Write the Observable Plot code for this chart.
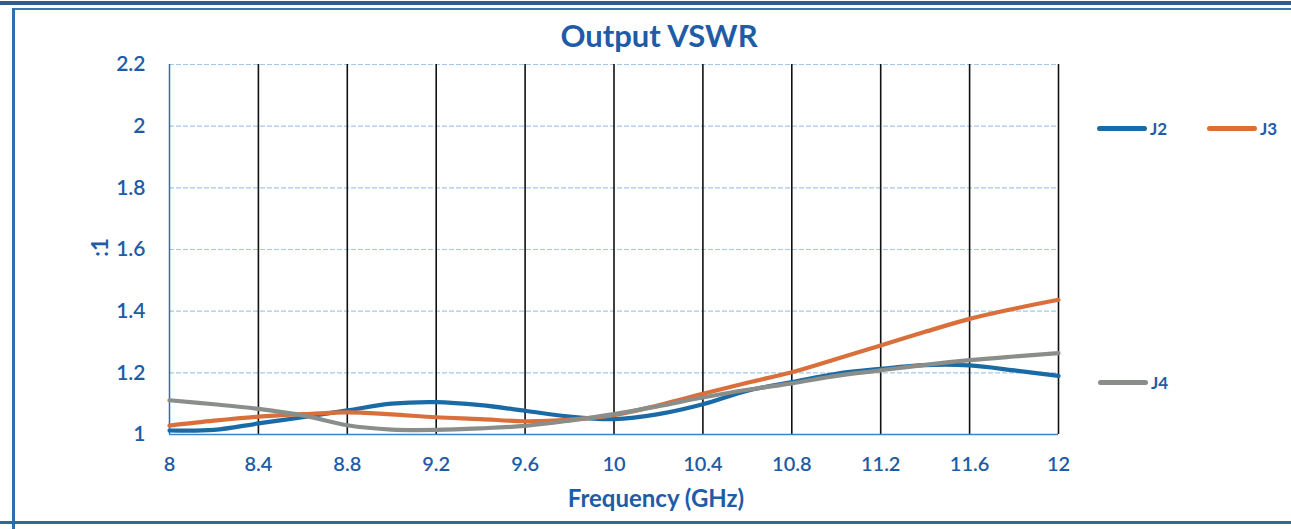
<!DOCTYPE html>
<html>
<head>
<meta charset="utf-8">
<script src="https://cdn.jsdelivr.net/npm/d3@7"></script>
<script src="https://cdn.jsdelivr.net/npm/@observablehq/plot@0.6"></script>
<style>
  html, body { margin: 0; padding: 0; background: #fff; }
  #wrap { position: relative; width: 1291px; height: 529px; overflow: hidden; font-family: Lato, "Open Sans", sans-serif; }
  .abs { position: absolute; }
  .title { left: 0; width: 1318px; top: 16px; text-align: center; font-size: 31px; font-weight: 700; color: #1f5ba6; }
  .leg { font-size: 17px; font-weight: 700; color: #1f5ba6; display: flex; align-items: center; }
  .leg span.ln { display: inline-block; width: 50px; height: 5px; border-radius: 3px; margin-right: 3px; }
</style>
</head>
<body>
<div id="wrap"></div>
<script>
const freq = [8.0, 8.2, 8.4, 8.6, 8.8, 9.0, 9.2, 9.4, 9.6, 9.8, 10.0, 10.2, 10.4, 10.6, 10.8, 11.0, 11.2, 11.4, 11.6, 11.8, 12.0];
const j2 = [1.013, 1.015, 1.036, 1.056, 1.078, 1.100, 1.105, 1.095, 1.077, 1.058, 1.050, 1.066, 1.098, 1.142, 1.170, 1.197, 1.213, 1.225, 1.224, 1.208, 1.190];
const j3 = [1.029, 1.045, 1.058, 1.066, 1.072, 1.065, 1.056, 1.050, 1.043, 1.048, 1.063, 1.095, 1.132, 1.168, 1.202, 1.245, 1.289, 1.333, 1.375, 1.408, 1.437];
const j4 = [1.111, 1.098, 1.083, 1.062, 1.030, 1.016, 1.015, 1.020, 1.028, 1.045, 1.066, 1.092, 1.120, 1.145, 1.166, 1.190, 1.208, 1.226, 1.241, 1.253, 1.264];
const seriesNames = ["J2", "J3", "J4"];
const seriesColors = ["#1a6aa6", "#d9703b", "#8a8e8a"];
const xTicks = [8, 8.4, 8.8, 9.2, 9.6, 10, 10.4, 10.8, 11.2, 11.6, 12];
const yTicks = [1, 1.2, 1.4, 1.6, 1.8, 2, 2.2];
const titleText = "Output VSWR";
const xLabel = "Frequency (GHz)";
const yLabel = ":1";

const seriesVals = [j2, j3, j4];
const rows = [];
seriesNames.forEach((s, i) => freq.forEach((f, k) => rows.push({series: s, f, v: seriesVals[i][k]})));

const txt = "#1f5ba6";
const chart = Plot.plot({
  width: 1291,
  height: 529,
  marginLeft: 169,
  marginRight: 233,
  marginTop: 64,
  marginBottom: 95,
  style: {fontFamily: "Lato, 'Open Sans', sans-serif", background: "transparent", overflow: "visible"},
  x: {domain: [8, 12]},
  y: {domain: [1, 2.2]},
  color: {domain: seriesNames, range: seriesColors},
  marks: [
    Plot.ruleY(yTicks.filter(v => v > 1), {stroke: "#a5c8ea", strokeWidth: 1.2, strokeDasharray: "5,2"}),
    Plot.ruleX(xTicks.filter(v => v > 8), {stroke: "#111", strokeWidth: 1.6}),
    Plot.ruleX([8], {stroke: "#2c6cb8", strokeWidth: 1.5}),
    Plot.ruleY([1], {stroke: "#3d83c9", strokeWidth: 1.5}),
    Plot.line(rows, {x: "f", y: "v", z: "series", stroke: "series", strokeWidth: 4.2, curve: "catmull-rom"}),
    Plot.axisX({ticks: xTicks, tickSize: 0, tickPadding: 22, tickFormat: d => String(d), fontSize: 20, fontWeight: 600, fill: txt, label: null}),
    Plot.axisY({ticks: yTicks, tickSize: 0, tickPadding: 24, tickFormat: d => String(d), fontSize: 21, fontWeight: 600, fill: txt, label: null})
  ]
});
chart.style.position = "absolute";
chart.style.left = "0px";
chart.style.top = "0px";

const wrap = document.getElementById("wrap");
wrap.appendChild(chart);

function add(html, css, cls) {
  const d = document.createElement("div");
  d.className = "abs " + (cls || "");
  d.innerHTML = html;
  Object.assign(d.style, css);
  wrap.appendChild(d);
  return d;
}
// frame
add("", {left: "0px", top: "1px", width: "1291px", height: "4px", background: "#2e5f8c"});
add("", {left: "12px", top: "8px", width: "1279px", height: "2px", background: "#3a78b8"});
add("", {left: "12px", top: "8px", width: "3px", height: "521px", background: "#2f6fae"});
add("", {left: "0px", top: "521px", width: "1291px", height: "3px", background: "#2f6a95"});

add(titleText, {}, "title");
add(xLabel, {left: "0px", width: "1312px", top: "483px", textAlign: "center", fontSize: "24px", fontWeight: "700", color: txt});
add(yLabel, {left: "90px", top: "234px", fontSize: "22px", fontWeight: "700", color: txt, transform: "rotate(-90deg)", transformOrigin: "center"});

// legend
const legPos = [[1097, 118], [1207, 118], [1098, 372]];
seriesNames.forEach((s, i) => {
  add(`<span class="ln" style="background:${seriesColors[i]}"></span>${s}`, {left: legPos[i][0] + "px", top: legPos[i][1] + "px"}, "leg");
});
</script>
</body>
</html>
